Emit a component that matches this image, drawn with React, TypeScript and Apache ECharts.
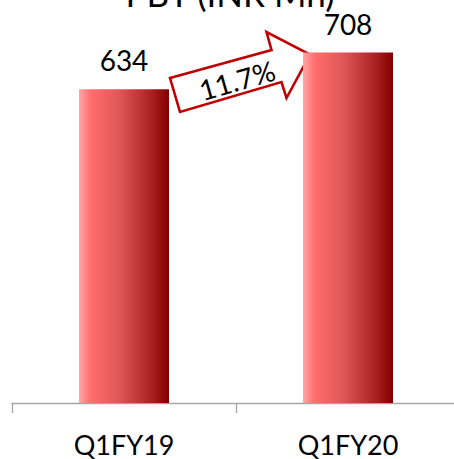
import React, { useEffect, useRef } from "react";
import * as echarts from "echarts";

const categories = ["Q1FY19", "Q1FY20"];
const pbtValues = [634, 708];
const titleText = "PBT (INR Mn)";
const growthPct = (((pbtValues[1] - pbtValues[0]) / pbtValues[0]) * 100).toFixed(1) + "%";

const FONT = "Lato, 'Liberation Sans', sans-serif";

export default function App() {
  const ref = useRef<HTMLDivElement>(null);
  useEffect(() => {
    if (!ref.current) return;
    const chart = echarts.init(ref.current, null, { renderer: "svg" });
    const barGradient = new echarts.graphic.LinearGradient(0, 0, 1, 0, [
      { offset: 0, color: "#ffa6a6" },
      { offset: 0.13, color: "#ff6e6e" },
      { offset: 0.45, color: "#e05656" },
      { offset: 0.75, color: "#b42a2a" },
      { offset: 1, color: "#820000" },
    ]);
    chart.setOption({
      animation: false,
      backgroundColor: "#ffffff",
      grid: {
        left: 12,
        width: 448,
        top: 7,
        height: 396,
        containLabel: false,
        outerBoundsMode: "none",
      },
      xAxis: {
        type: "category",
        data: categories,
        boundaryGap: true,
        axisLine: { show: true, lineStyle: { color: "#a6a6a6", width: 1.3 } },
        axisTick: {
          show: true,
          interval: 0,
          alignWithLabel: false,
          length: 10,
          lineStyle: { color: "#a6a6a6", width: 1.3 },
        },
        axisLabel: {
          fontSize: 27,
          lineHeight: 22,
          color: "#000",
          margin: 30,
          fontFamily: FONT,
        },
      },
      yAxis: { type: "value", min: 0, max: 800, show: false, splitLine: { show: false } },
      series: [
        {
          type: "bar",
          data: pbtValues,
          barWidth: 90,
          itemStyle: { color: barGradient },
          label: {
            show: true,
            position: "top",
            distance: 15,
            fontSize: 28,
            color: "#000",
            fontFamily: FONT,
          },
        },
      ],
      graphic: [
        {
          type: "text",
          x: 230,
          y: -7,
          style: {
            text: titleText,
            fontSize: 35,
            fontFamily: FONT,
            fill: "#000",
            textAlign: "center",
            textVerticalAlign: "middle",
          },
        },
        {
          type: "polygon",
          shape: {
            points: [
              [170, 78],
              [271.5, 50],
              [266.5, 32],
              [310, 54.5],
              [286.5, 98],
              [281.5, 82],
              [180, 112],
            ],
          },
          style: { fill: "#ffffff", stroke: "#c00000", lineWidth: 2.6, lineJoin: "miter" },
        },
        {
          type: "text",
          x: 237,
          y: 80,
          rotation: (16 * Math.PI) / 180,
          style: {
            text: growthPct,
            fontSize: 28,
            fontFamily: FONT,
            fill: "#000",
            textAlign: "center",
            textVerticalAlign: "middle",
          },
        },
      ],
    });
    return () => chart.dispose();
  }, []);
  return <div ref={ref} style={{ width: 454, height: 459, position: "absolute", left: 0, top: 0 }} />;
}
